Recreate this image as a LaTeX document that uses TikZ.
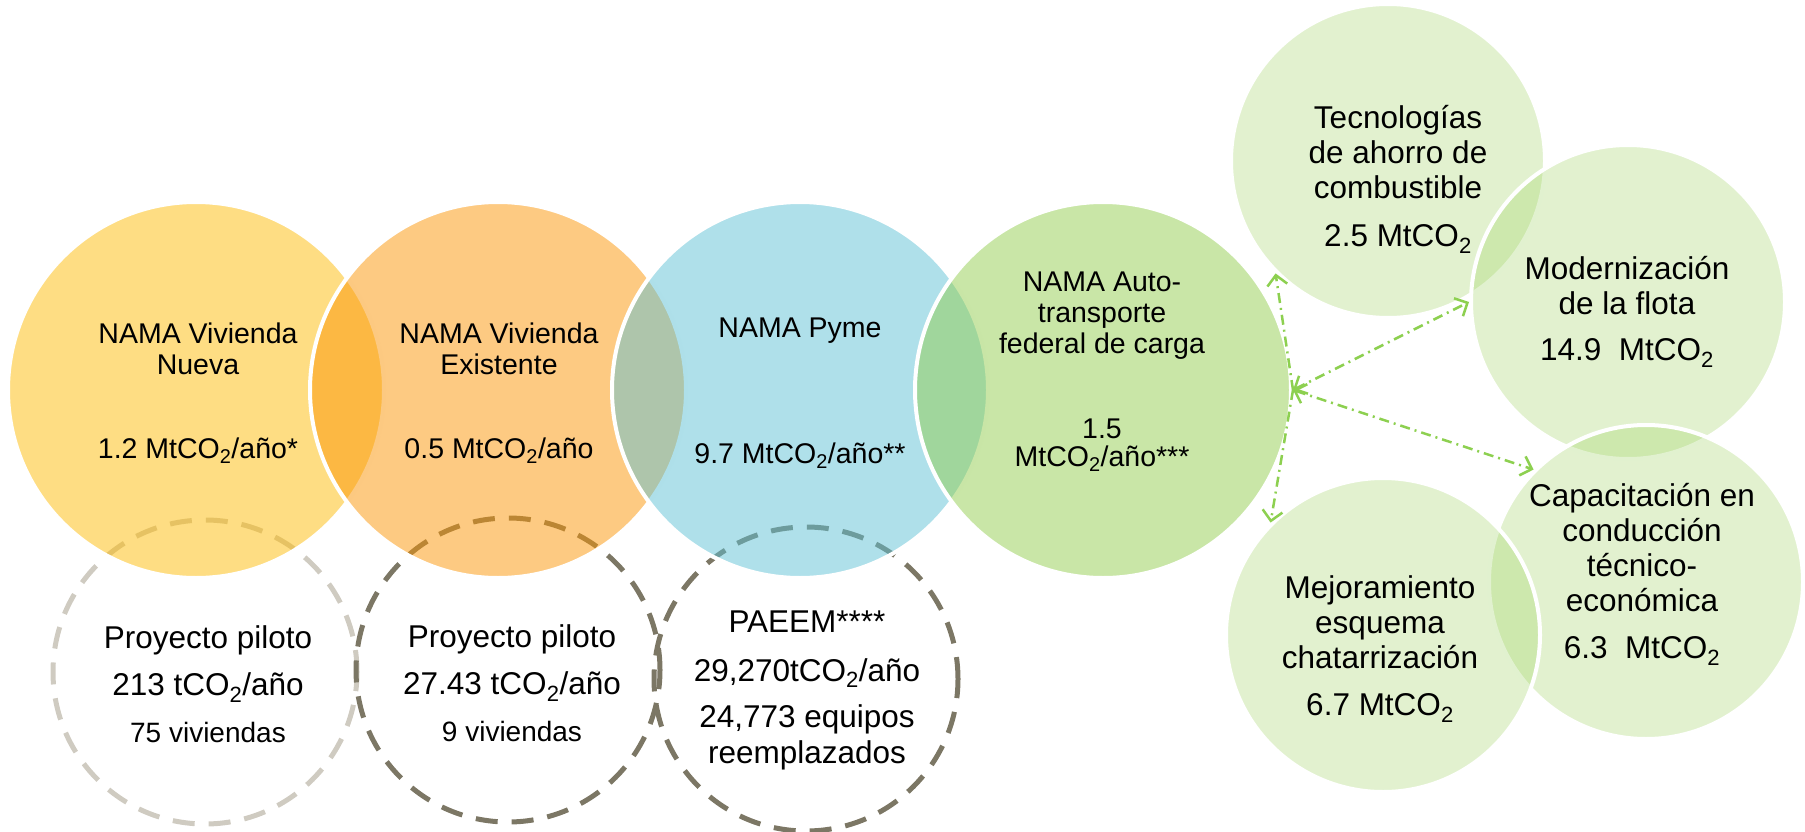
\documentclass[tikz,border=0pt]{standalone}
\usepackage{fontspec}
\setmainfont{Liberation Sans}
\usepackage{tikz}
\usetikzlibrary{positioning,arrows.meta}
\definecolor{ylwbase}{RGB}{253,187,7}
\definecolor{orgbase}{RGB}{251,149,5}
\definecolor{blubase}{RGB}{95,193,213}
\definecolor{grnbase}{RGB}{147,205,79}
\definecolor{pilotlight}{RGB}{207,203,193}
\definecolor{pilotdark}{RGB}{124,119,101}
\definecolor{arrowgrn}{RGB}{141,208,80}
\newcommand{\cotwo}{CO\textsubscript{2}}
\tikzset{
  bigcirc/.style={circle, draw=white, line width=4pt, minimum size=376pt, inner sep=0pt, fill opacity=0.5},
  smallcirc/.style={circle, draw=white, line width=4pt, minimum size=314pt, inner sep=0pt, fill=grnbase, fill opacity=0.27},
  pilot/.style={circle, line width=5pt, dash pattern=on 22pt off 14pt, minimum size=304pt, inner sep=0pt},
  lightdash/.style={draw=pilotlight},
  darkdash/.style={draw=pilotdark},
  txtbig/.style={align=center, font=\fontsize{28.5}{31}\selectfont},
  txtpilot/.style={align=center, font=\fontsize{31.5}{36}\selectfont},
  txtsmall/.style={align=center, font=\fontsize{31.5}{35}\selectfont},
  link/.style={draw=arrowgrn, line width=2.5pt, dash pattern=on 10pt off 5pt on 2pt off 5pt,
               >={Straight Barb[length=10pt,width=20pt]}},
}

\begin{document}
\begin{tikzpicture}[x=1pt, y=-1pt, node distance=302pt, on grid]
\useasboundingbox (0,0) rectangle (1805,832);

%Pilot circles
\node[pilot, lightdash] (pil1) at (205,672) {};
\node[pilot, darkdash] (pil2) [right=303pt of pil1, yshift=2pt] {};
\node[pilot, darkdash] (pil3) [right=298pt of pil2, yshift=-9pt] {};

%NAMA circles
\node[bigcirc, fill=ylwbase] (nueva) at (196,390) {};
\node[bigcirc, fill=orgbase] (exist) [right=of nueva] {};
\node[bigcirc, fill=blubase] (pyme) [right=of exist] {};
\node[bigcirc, fill=grnbase] (auto) [right=303pt of pyme] {};

%Transport measures
\node[smallcirc] (tecno) at (1388,161) {};
\node[smallcirc] (moder) at (1628,302) {};
\node[smallcirc] (capac) at (1646,582) {};
\node[smallcirc] (mejor) at (1383,635) {};

%Texts
\node[txtbig] (tnueva) at (198,393) {NAMA Vivienda\\Nueva\\[53pt]1.2 Mt\cotwo/año*};
\node[txtbig] (texist) at (499,393) {NAMA Vivienda\\Existente\\[53pt]0.5 Mt\cotwo/año};
\node[txtbig] (tpyme) at (800,393) {NAMA Pyme\\[95pt]9.7 Mt\cotwo/año**};
\node[txtbig] (tauto) at (1102,372) {NAMA Auto-\\transporte\\federal de carga\\[54pt]1.5\\[-3pt]Mt\cotwo/año***};
\node[txtpilot] (tpil1) at (208,684) {Proyecto piloto\\[11pt]213 t\cotwo/año\\[11pt]{\fontsize{28}{32}\selectfont 75 viviendas}};
\node[txtpilot] (tpil2) at (512,683) {Proyecto piloto\\[11pt]27.43 t\cotwo/año\\[11pt]{\fontsize{28}{32}\selectfont 9 viviendas}};
\node[txtpilot] (tpil3) at (807,690) {PAEEM****\\[13pt]29,270t\cotwo/año\\[10pt]24,773 equipos\\reemplazados};
\node[txtsmall] (ttecno) at (1398,179) {Tecnologías\\de ahorro de\\combustible\\[13pt]2.5 Mt\cotwo};
\node[txtsmall] (tmoder) at (1627,312) {Modernización\\de la flota\\[11pt]14.9\ \ Mt\cotwo};
\node[txtsmall] (tcapac) at (1642,574) {Capacitación en\\conducción\\técnico-\\económica\\[12pt]6.3\ \ Mt\cotwo};
\node[txtsmall] (tmejor) at (1380,649) {Mejoramiento\\esquema\\chatarrización\\[12pt]6.7 Mt\cotwo};

%Lines
\draw[link, ->] (auto.east) -- (tecno.225);
\draw[link, <->] (auto.east) -- (moder.west);
\draw[link, <->] (auto.east) -- (capac.135);
\draw[link, ->] (auto.east) -- (mejor.135);
\end{tikzpicture}
\end{document}
